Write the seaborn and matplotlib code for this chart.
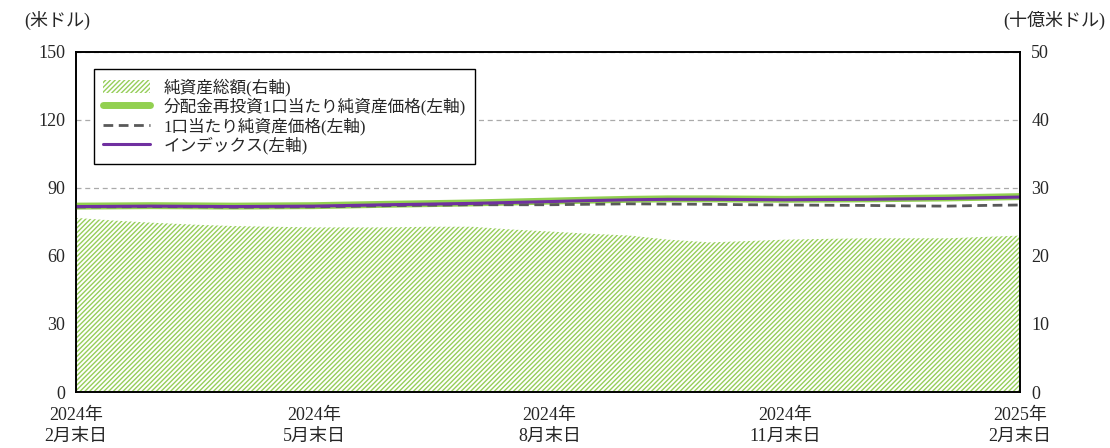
import seaborn as sns
import matplotlib.pyplot as plt
from matplotlib.patches import Patch
from matplotlib.lines import Line2D
import pandas as pd

# data (semi-monthly points)
dates = pd.to_datetime([
    "2024-02-29", "2024-03-15", "2024-03-29", "2024-04-15", "2024-04-30",
    "2024-05-15", "2024-05-31", "2024-06-14", "2024-06-28", "2024-07-15",
    "2024-07-31", "2024-08-15", "2024-08-30", "2024-09-13", "2024-09-30",
    "2024-10-15", "2024-10-31", "2024-11-15", "2024-11-29", "2024-12-13",
    "2024-12-31", "2025-01-15", "2025-01-31", "2025-02-14", "2025-02-28",
])
net_assets = [25.6, 25.2, 24.9, 24.6, 24.4, 24.3, 24.2, 24.2, 24.2, 24.3,
              24.3, 23.9, 23.6, 23.3, 23.0, 22.4, 22.0, 22.2, 22.4, 22.5,
              22.6, 22.6, 22.6, 22.8, 23.0]
index_vals = [81.8, 81.9, 82.0, 81.9, 81.8, 81.9, 82.0, 82.3, 82.6, 82.9,
              83.2, 83.6, 84.0, 84.4, 84.8, 85.0, 85.0, 84.9, 84.8, 84.9,
              85.0, 85.2, 85.4, 85.7, 86.0]
nav_reinv = [82.0, 82.1, 82.2, 82.1, 82.0, 82.1, 82.2, 82.5, 82.8, 83.1,
             83.4, 83.8, 84.2, 84.6, 85.0, 85.2, 85.2, 85.1, 85.0, 85.1,
             85.2, 85.4, 85.6, 85.9, 86.2]
nav = [81.6, 81.7, 81.8, 81.7, 81.5, 81.6, 81.7, 81.9, 82.2, 82.4,
       82.6, 82.6, 82.6, 82.8, 83.0, 82.9, 82.8, 82.6, 82.5, 82.4,
       82.3, 82.1, 82.0, 82.3, 82.5]

tick_dates = pd.to_datetime(["2024-02-29", "2024-05-31", "2024-08-30",
                             "2024-11-29", "2025-02-28"])
tick_labels = ["2024年\n2月末日", "2024年\n5月末日", "2024年\n8月末日",
               "2024年\n11月末日", "2025年\n2月末日"]

df = pd.DataFrame({"date": dates, "assets": net_assets, "index": index_vals,
                   "reinv": nav_reinv, "nav": nav})

sns.set_style("white")
plt.rcParams["font.family"] = ["Liberation Serif", "Noto Sans CJK JP"]
plt.rcParams["hatch.linewidth"] = 1.0
plt.rcParams["hatch.color"] = "#96CE5A"

GREEN = "#92D050"
PURPLE = "#7030A0"
GREY = "#595959"

fig, ax = plt.subplots(figsize=(11.1, 4.48), dpi=100)
fig.subplots_adjust(left=0.0685, right=0.919, top=0.884, bottom=0.125)
ax2 = ax.twinx()

# net assets area on right axis
ax2.fill_between(df["date"], 0, df["assets"], facecolor="white",
                 edgecolor="#96CE5A", hatch="///////", linewidth=0, zorder=1)
ax2.set_ylim(0, 50)
ax2.set_yticks(range(0, 51, 10))
ax2.yaxis.grid(True, color="#AAAAAA", linestyle=(0, (4, 3)), linewidth=0.9)
ax2.set_axisbelow(True)

# lines on left axis
ax.set_zorder(ax2.get_zorder() + 1)
ax.patch.set_visible(False)
sns.lineplot(data=df, x="date", y="reinv", ax=ax, color=GREEN, linewidth=5)
sns.lineplot(data=df, x="date", y="nav", ax=ax, color=GREY, linewidth=2,
             linestyle=(0, (3.5, 2)))
sns.lineplot(data=df, x="date", y="index", ax=ax, color=PURPLE, linewidth=2.2)
ax.set_ylim(0, 150)
ax.set_yticks(range(0, 151, 30))
ax.set_xlim(dates[0], dates[-1])
ax.set_xticks(tick_dates)
ax.set_xticklabels(tick_labels, fontsize=13, linespacing=1.3)
ax.set_xlabel("")
ax.set_ylabel("")

for a in (ax, ax2):
    for s in a.spines.values():
        s.set_color("black")
        s.set_linewidth(1.2)
    a.tick_params(axis="y", length=0, labelsize=13, pad=8)
ax.tick_params(axis="x", direction="in", length=6, width=1.2, pad=11,
               color="black")

fig.text(0.022, 0.955, "(米ドル)", fontsize=13, ha="left", va="center")
fig.text(0.996, 0.955, "(十億米ドル)", fontsize=13, ha="right", va="center")

handles = [
    Patch(facecolor="white", edgecolor="#96CE5A", hatch="///////", linewidth=0),
    Line2D([], [], color=GREEN, linewidth=5),
    Line2D([], [], color=GREY, linewidth=2, linestyle=(0, (3.5, 2))),
    Line2D([], [], color=PURPLE, linewidth=2.2),
]
labels = ["純資産総額(右軸)", "分配金再投資1口当たり純資産価格(左軸)",
          "1口当たり純資産価格(左軸)", "インデックス(左軸)"]
leg = ax.legend(handles, labels, loc="upper left",
                bbox_to_anchor=(0.019, 0.95), fontsize=12, frameon=True,
                fancybox=False, edgecolor="black", framealpha=1,
                handlelength=2.8, handleheight=0.8, labelspacing=0.1,
                borderpad=0.55, handletextpad=0.8, borderaxespad=0)
leg.get_frame().set_linewidth(1.0)

plt.savefig("out.png", dpi=100)
